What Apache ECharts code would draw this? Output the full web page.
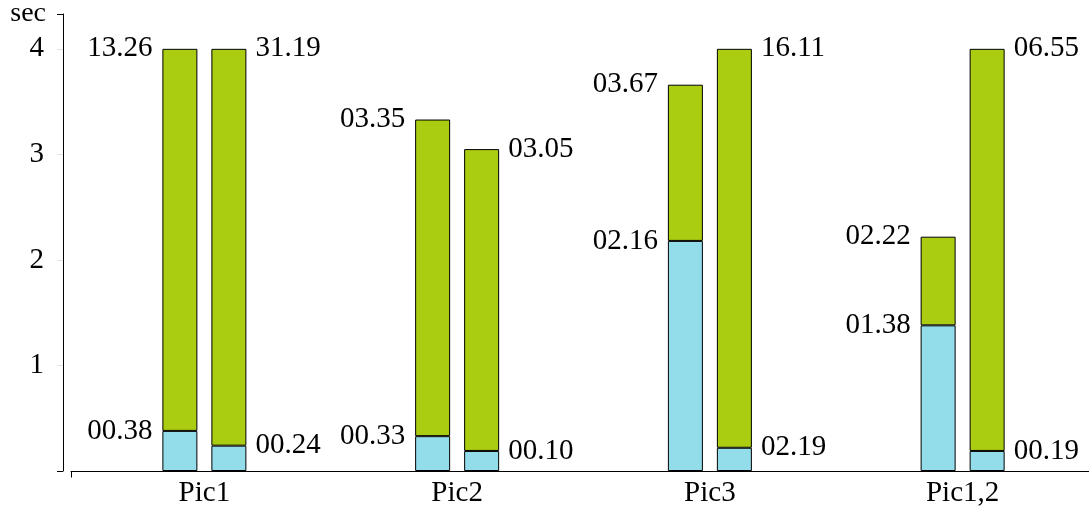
<!DOCTYPE html>
<html>
<head>
<meta charset="utf-8">
<script src="https://cdn.jsdelivr.net/npm/echarts@6/dist/echarts.min.js"></script>
<style>
  html, body { margin: 0; padding: 0; background: #fff; }
  #chart { width: 1089px; height: 508px; }
</style>
</head>
<body>
<div id="chart"></div>
<script>
// ---- data ----
const categories = ['Pic1', 'Pic2', 'Pic3', 'Pic1,2'];
const yTicks = [1, 2, 3, 4];
// left bar of each pair
const blueLeft = [0.38, 0.33, 2.18, 1.38];
const totalLeft = [4, 3.33, 3.66, 2.22];
const blueLeftLabels = ['00.38', '00.33', '02.16', '01.38'];
const totalLeftLabels = ['13.26', '03.35', '03.67', '02.22'];
// right bar of each pair
const blueRight = [0.24, 0.19, 0.22, 0.19];
const totalRight = [4, 3.05, 4, 4];
const blueRightLabels = ['00.24', '00.10', '02.19', '00.19'];
const totalRightLabels = ['31.19', '03.05', '16.11', '06.55'];

const FONT = '"Liberation Serif", "DejaVu Serif", serif';
const FS = 29;
const BLUE = '#93dcea';
const GREEN = '#aacc11';
const GRIDC = '#e2e2e2';
const YMAX = 4.33;

function diff(a, b) { return a.map((v, i) => +(v - b[i]).toFixed(4)); }

const leftLabel = (arr) => ({
  show: true, position: [-10, 0], align: 'right', verticalAlign: 'middle',
  fontFamily: FONT, fontSize: FS, color: '#000',
  formatter: p => arr[p.dataIndex]
});
const rightLabel = (arr) => ({
  show: true, position: ['100%', 0], offset: [9, 0], align: 'left', verticalAlign: 'middle',
  fontFamily: FONT, fontSize: FS, color: '#000',
  formatter: p => arr[p.dataIndex]
});
const barBase = { type: 'bar', barWidth: 35, barGap: '40%', xAxisIndex: 0, yAxisIndex: 0 };
const item = c => ({ color: c, borderColor: '#000', borderWidth: 1 });

const chart = echarts.init(document.getElementById('chart'), null, { renderer: 'canvas' });
chart.setOption({
  animation: false,
  backgroundColor: '#fff',
  grid: [
    { left: 78, right: -1, top: 14, bottom: 36.5, containLabel: false },
    { left: 71, right: 0, top: 14, bottom: 36.5, containLabel: false }
  ],
  xAxis: [{
    type: 'category', gridIndex: 0, data: categories, boundaryGap: true,
    axisLine: { show: false },
    axisTick: { show: false },
    splitLine: { show: false },
    axisLabel: { margin: 8, fontFamily: FONT, fontSize: FS, color: '#000' }
  }, {
    type: 'value', gridIndex: 1, min: 0, max: 1,
    axisLine: { show: true, onZero: false, lineStyle: { color: '#000', width: 1 } },
    axisTick: { show: true, customValues: [0], length: 6, lineStyle: { color: '#000' } },
    axisLabel: { show: false },
    splitLine: { show: false }
  }],
  yAxis: [{
    type: 'value', gridIndex: 0, min: 0, max: YMAX, interval: 1, position: 'left', offset: 15,
    name: 'sec', nameLocation: 'end', nameGap: 0,
    nameTextStyle: { fontFamily: FONT, fontSize: 28, color: '#000', align: 'right', verticalAlign: 'middle', padding: [0, 17, 0, 0] },
    axisLine: { show: true, onZero: false, lineStyle: { color: '#000', width: 1 } },
    axisTick: { show: true, customValues: [0, YMAX], length: 6, lineStyle: { color: '#000' } },
    axisLabel: { customValues: yTicks, margin: 19, fontFamily: FONT, fontSize: FS, color: '#000' },
    splitLine: { show: true, showMinLine: false, showMaxLine: false, lineStyle: { color: GRIDC, width: 1 } }
  }, {
    type: 'value', gridIndex: 0, min: 0, max: YMAX, position: 'left', offset: 15,
    axisLine: { show: false, onZero: false },
    axisTick: { show: true, customValues: yTicks, length: 6, lineStyle: { color: GRIDC } },
    axisLabel: { show: false },
    splitLine: { show: false }
  }, {
    type: 'value', gridIndex: 1, min: 0, max: 1, show: false
  }],
  series: [
    Object.assign({}, barBase, { name: 'bL', stack: 'L', data: blueLeft, itemStyle: item(BLUE), label: leftLabel(blueLeftLabels) }),
    Object.assign({}, barBase, { name: 'gL', stack: 'L', data: diff(totalLeft, blueLeft), itemStyle: item(GREEN), label: leftLabel(totalLeftLabels) }),
    Object.assign({}, barBase, { name: 'bR', stack: 'R', data: blueRight, itemStyle: item(BLUE), label: rightLabel(blueRightLabels) }),
    Object.assign({}, barBase, { name: 'gR', stack: 'R', data: diff(totalRight, blueRight), itemStyle: item(GREEN), label: rightLabel(totalRightLabels) })
  ]
});
</script>
</body>
</html>
